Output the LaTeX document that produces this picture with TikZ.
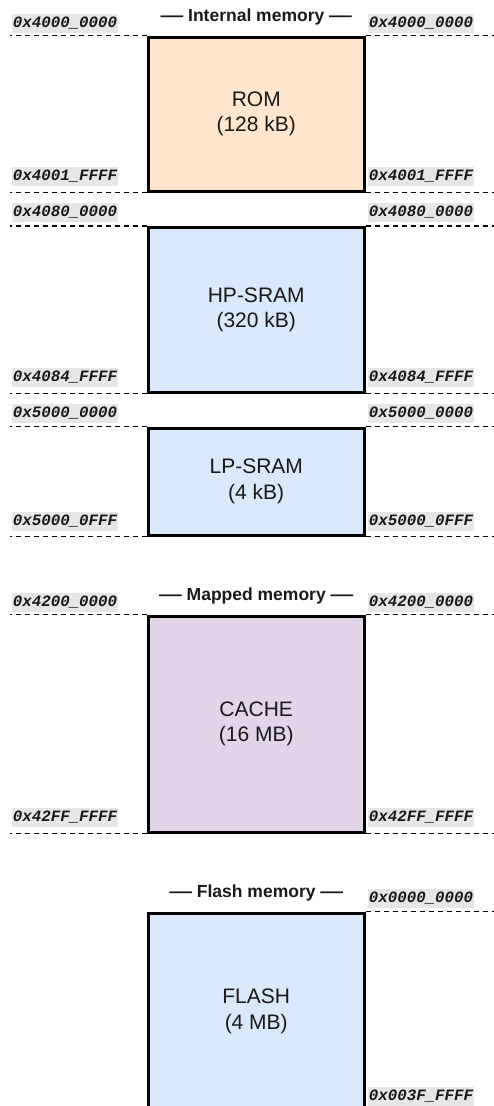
\documentclass[tikz,border=0pt]{standalone}
\usepackage{fontspec}
\usepackage{graphicx}
\setmainfont{Liberation Sans}
\newfontfamily\addrfont{Liberation Mono}
\definecolor{romfill}{HTML}{FFE6CC}
\definecolor{bluefill}{HTML}{DAE8FC}
\definecolor{purplefill}{HTML}{E1D5E7}
\definecolor{addrbg}{HTML}{E6E6E6}
\newcommand{\tdash}{\scalebox{1.3}[1]{—}}
\tikzset{
  membox/.style={draw=black, line width=3pt, minimum width=215.5pt, inner sep=0pt, align=center,
    font=\fontsize{21}{25.5}\selectfont, text=black!90},
  addr/.style={fill=addrbg, inner sep=0pt, minimum width=106pt, minimum height=19pt,
    font=\addrfont\bfseries\itshape\fontsize{15.8}{18}\selectfont, text=black!90},
  addrline/.style={dash pattern=on 5pt off 4pt, line width=1.7pt, black},
  sectitle/.style={anchor=base, inner sep=0pt, font=\bfseries\fontsize{17.5}{20}\selectfont, text=black!90}
}
\begin{document}
\begin{tikzpicture}[x=1pt,y=-1pt]
\useasboundingbox (0,0) rectangle (494,1106);
\clip (0,0) rectangle (494,1106);

% boxes
\node[membox, fill=romfill, minimum height=154pt] (rom) at (256.25,114) {ROM\\(128 kB)};
\node[membox, fill=bluefill, minimum height=164.5pt] (hp) at (256.25,309.75) {HP-SRAM\\(320 kB)};
\node[membox, fill=bluefill, minimum height=107pt] (lp) at (256.25,481.5) {LP-SRAM\\(4 kB)};
\node[membox, fill=purplefill, minimum height=216pt] (cache) at (256.25,724) {CACHE\\(16 MB)};
\node[membox, fill=bluefill, minimum height=197pt] (flash) at (256.25,1011.5) {FLASH\\(4 MB)};

% titles
\node[sectitle] (t1) at (256.25,21.5) {\tdash{} Internal memory \tdash};
\node[sectitle] (t2) at (256.25,600) {\tdash{} Mapped memory \tdash};
\node[sectitle] (t3) at (256.25,897) {\tdash{} Flash memory \tdash};

% dashed boundary lines
\foreach \b in {rom,hp,lp,cache}{
  \draw[addrline] (\b.north west) -- ++(-137.5,0);
  \draw[addrline] (\b.north east) -- ++(130,0);
  \draw[addrline] (\b.south west) -- ++(-137.5,0);
  \draw[addrline] (\b.south east) -- ++(130,0);
}
\draw[addrline] (flash.north east) -- ++(130,0);

% address labels
\foreach \n/\y/\t in {a/23.5/0x4000\_0000, b/176.5/0x4001\_FFFF, c/212.5/0x4080\_0000,
  d/377.5/0x4084\_FFFF, e/413.5/0x5000\_0000, f/521/0x5000\_0FFF,
  g/602/0x4200\_0000, h/817.5/0x42FF\_FFFF}{
  \node[addr] (L\n) at (65,\y) {\t};
  \node[addr] (R\n) at (421,\y) {\t};
}
\node[addr] (Ri) at (421,898) {0x0000\_0000};
\node[addr] (Rj) at (421,1096.5) {0x003F\_FFFF};
\end{tikzpicture}
\end{document}
